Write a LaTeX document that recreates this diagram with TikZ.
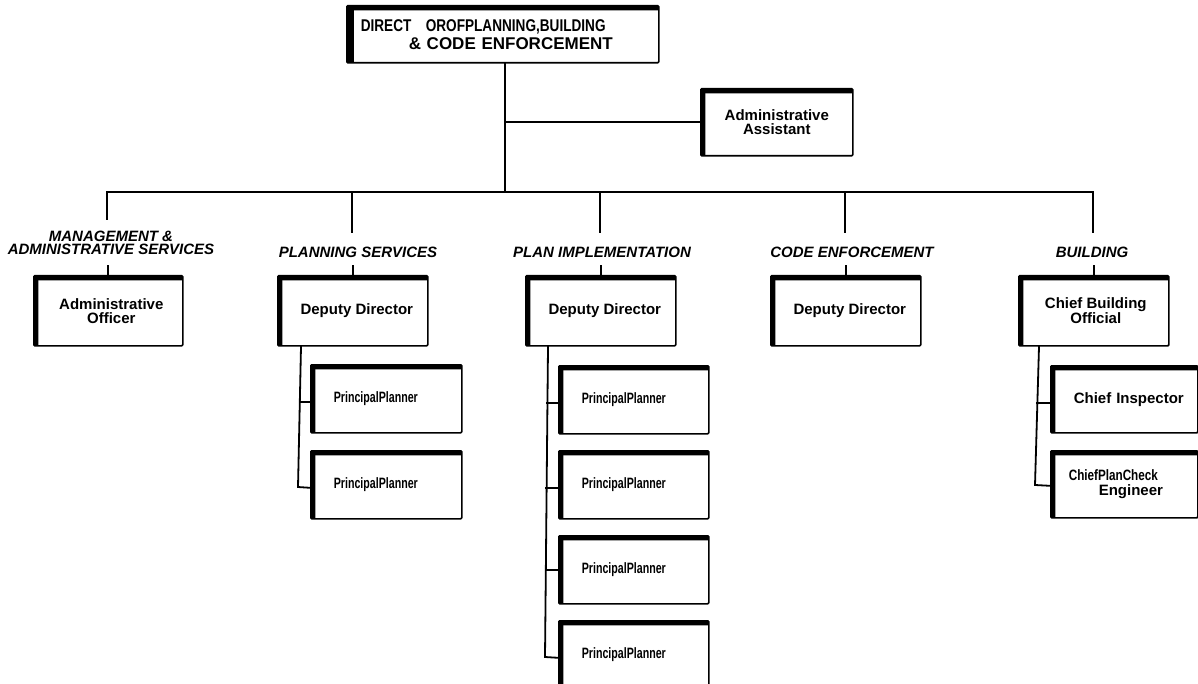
\documentclass[tikz,border=0pt]{standalone}
\usepackage{fontspec}
\setmainfont{Liberation Sans}
\usepackage{graphicx}
\newcommand\ppl{\hspace*{19pt}\scalebox{0.71}[1]{PrincipalPlanner}}
\tikzset{
  conn/.style={line width=1.8pt, line cap=rect},
  orgbox/.style={draw, line width=1.6pt, rounded corners=1pt, inner sep=0pt,
    font=\bfseries\fontsize{15}{14}\selectfont, align=center, anchor=north west,
    path picture={
      \fill (path picture bounding box.north west) rectangle ([xshift=4.5pt]path picture bounding box.south west);
      \fill (path picture bounding box.north west) rectangle ([yshift=-4.5pt]path picture bounding box.north east);}},
  topbox/.style={orgbox, minimum height=57pt, text width=284pt, inner xsep=14pt, align=left,
    font=\bfseries\fontsize{17}{18}\selectfont,
    path picture={
      \fill (path picture bounding box.north west) rectangle ([xshift=7pt]path picture bounding box.south west);
      \fill (path picture bounding box.north west) rectangle ([yshift=-4.5pt]path picture bounding box.north east);}},
  mainbox/.style={orgbox, minimum width=150pt, minimum height=70pt},
  subbox/.style={orgbox, minimum height=68pt, text width=143pt, inner xsep=4pt, align=left},
  subboxb/.style={orgbox, minimum height=67pt, text width=139pt, inner xsep=4pt, align=left},
  unitlabel/.style={font=\bfseries\itshape\fontsize{15}{13.5}\selectfont, inner sep=0pt, align=center},
}
\begin{document}
\begin{tikzpicture}[x=1pt, y=-1pt]
\useasboundingbox (0,0) rectangle (1198,684);
\clip (0,0) rectangle (1198,684);

% top level
\node[topbox] (dir) at (346,5) {\scalebox{0.8}[1]{DIRECT\hspace{18pt}OROFPLANNING,BUILDING}\\\hspace*{48pt}\& CODE ENFORCEMENT};
\node[orgbox, minimum width=152pt, minimum height=67pt] (asst) at (700,88) {Administrative\\Assistant};

% bus coordinates
\coordinate (jt) at (505,192);
\coordinate (b1) at (107,192);
\coordinate (b2) at (352,192);
\coordinate (b3) at (600,192);
\coordinate (b4) at (845,192);
\coordinate (b5) at (1093,192);
\coordinate (d1) at (107,219);
\coordinate (d2) at (352,232);
\coordinate (d3) at (600,232);
\coordinate (d4) at (845,232);
\coordinate (d5) at (1093,232);

% unit labels
\node[unitlabel] (lmas) at (111,243) {MANAGEMENT \&\\ADMINISTRATIVE SERVICES};
\node[unitlabel] (lps) at (358,252) {PLANNING SERVICES};
\node[unitlabel] (lpi) at (602,252) {PLAN IMPLEMENTATION};
\node[unitlabel] (lce) at (852,252) {CODE ENFORCEMENT};
\node[unitlabel] (lbld) at (1092,252) {BUILDING};

% level 1 boxes
\node[mainbox, minimum width=149pt] (off) at (33,275) {\hspace*{6pt}Administrative\\\hspace*{6pt}Officer};
\node[mainbox] (psd) at (277,275) {\hspace*{8pt}Deputy Director};
\node[mainbox] (pid) at (525,275) {\hspace*{8pt}Deputy Director};
\node[mainbox] (ced) at (770,275) {\hspace*{8pt}Deputy Director};
\node[mainbox] (cbo) at (1018,275) {\hspace*{4pt}Chief Building\\\hspace*{4pt}Official};

% planning services sub boxes
\node[subbox] (ps1) at (310,364) {\ppl};
\node[subbox] (ps2) at (310,450) {\ppl};

% plan implementation sub boxes
\node[subbox, text width=142pt] (pi1) at (558,365) {\ppl};
\node[subbox, text width=142pt] (pi2) at (558,450) {\ppl};
\node[subbox, text width=142pt] (pi3) at (558,535) {\ppl};
\node[subbox, text width=142pt] (pi4) at (558,620) {\ppl};

% building sub boxes
\node[subboxb] (bi1) at (1050,365) {\hspace*{19pt}Chief Inspector};
\node[subboxb, font=\bfseries\fontsize{15}{15}\selectfont] (bi2) at (1050,450) {\hspace*{14pt}\scalebox{0.78}[1]{ChiefPlanCheck}\\\hspace*{44pt}Engineer};

% connectors: top
\draw[conn] (dir.south -| jt) -- (jt);
\draw[conn] (asst.west -| jt) -- (asst.west);
\draw[conn] (b1) -- (b5);
\draw[conn] (b1) -- (d1);
\draw[conn] (b2) -- (d2);
\draw[conn] (b3) -- (d3);
\draw[conn] (b4) -- (d4);
\draw[conn] (b5) -- (d5);
\draw[conn] (off.north) -- ++(0,-9);
\draw[conn] (psd.north) -- ++(0,-9);
\draw[conn] (pid.north) -- ++(0,-9);
\draw[conn] (ced.north) -- ++(0,-9);
\draw[conn] (cbo.north) -- ++(0,-9);

% planning services branch
\coordinate (psv) at (298,487);
\draw[conn] ([xshift=24pt]psd.south west) -- (psv);
\draw[conn] ([yshift=-3.5pt]ps1.west) -- ++(-10.5,0);
\draw[conn] ([yshift=-3pt]ps2.west) -- (psv);

% plan implementation branch
\coordinate (piv) at (545,657);
\draw[conn] ([xshift=23pt]pid.south west) -- (piv);
\draw[conn] ([yshift=-3pt]pi1.west) -- ++(-11.5,0);
\draw[conn] ([yshift=-3pt]pi2.west) -- ++(-12,0);
\draw[conn] (pi3.west) -- ++(-12.5,0);
\draw[conn] ([yshift=-3pt]pi4.west) -- (piv);

% building branch
\coordinate (biv) at (1035,485);
\draw[conn] ([xshift=21pt]cbo.south west) -- (biv);
\draw[conn] ([yshift=-3.5pt]bi1.west) -- ++(-13,0);
\draw[conn] ([yshift=-1.5pt]bi2.west) -- (biv);
\end{tikzpicture}
\end{document}
